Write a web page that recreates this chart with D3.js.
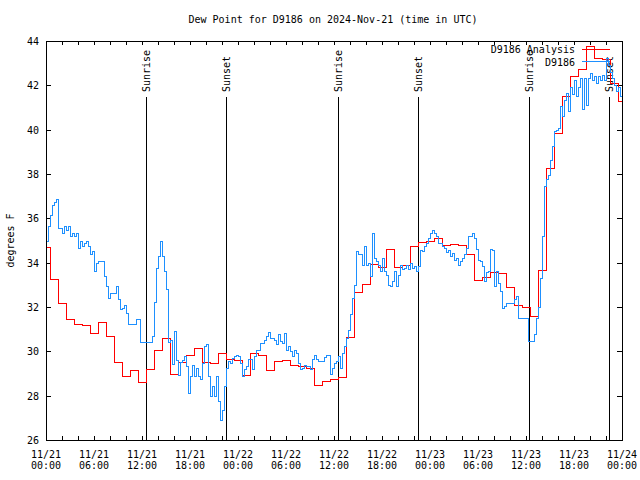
<!DOCTYPE html>
<html><head><meta charset="utf-8">
<script src="https://cdn.jsdelivr.net/npm/d3@7"></script>
<style>
body{margin:0;background:#fff;}
svg text{font-family:"DejaVu Sans Mono","Liberation Mono",monospace;font-size:10px;fill:#000;}
</style></head><body>
<svg id="chart" width="640" height="480"></svg>
<script>
// ---------------- data ----------------
const chartTitle = "Dew Point for D9186 on 2024-Nov-21 (time in UTC)";
const yAxisTitle = "degrees F";
const yTickValues = [26, 28, 30, 32, 34, 36, 38, 40, 42, 44];
const xTickHours = [0, 6, 12, 18, 24, 30, 36, 42, 48, 54, 60, 66, 72];
const xTickDates = ["11/21","11/21","11/21","11/21","11/22","11/22","11/22","11/22","11/23","11/23","11/23","11/23","11/24"];
const xTickTimes = ["00:00","06:00","12:00","18:00","00:00","06:00","12:00","18:00","00:00","06:00","12:00","18:00","00:00"];
const seriesNames = ["D9186 Analysis", "D9186"];
const seriesColors = ["#ff0000", "#1e90ff"];

// hourly analysis values, hour 0 .. 72
const analysisValues = [
  34.69, 33.25, 32.17, 31.44, 31.23, 31.16, 30.81, 31.31, 30.66, 29.49, 28.86, 29.13,
  28.60, 29.19, 30.06, 30.56, 28.96, 29.50, 29.79, 30.14, 29.50, 29.43, 29.91, 29.61,
  29.58, 28.93, 29.91, 29.80, 29.13, 29.53, 29.58, 29.38, 29.31, 29.22, 28.48, 28.66,
  28.74, 28.83, 30.63, 32.66, 33.02, 33.93, 33.79, 34.60, 33.79, 33.86, 34.75, 34.92,
  34.95, 35.10, 34.77, 34.80, 34.78, 34.35, 33.21, 33.35, 33.57, 33.50, 32.88, 32.06,
  31.98, 31.58, 33.63, 38.24, 39.84, 41.50, 42.40, 42.72, 43.75, 43.22, 43.15, 42.10,
  41.26
];

// station observations, one value every 15 minutes, hour 0 .. 72
const obsStepHours = 0.25;
const obsValues = [
  34.95, 35.62, 36.15, 36.60, 36.71, 36.85, 35.55, 35.55,
  35.32, 35.62, 35.47, 35.62, 35.17, 35.32, 35.17, 35.32,
  34.65, 34.95, 34.72, 34.87, 34.95, 34.72, 34.35, 34.50,
  33.59, 33.97, 34.04, 34.04, 34.04, 33.37, 32.92, 32.39,
  32.62, 32.62, 32.62, 32.92, 32.32, 31.90, 31.94, 32.09,
  31.71, 31.19, 31.19, 31.19, 31.19, 31.44, 31.44, 30.41,
  30.41, 30.41, 30.41, 30.41, 30.41, 30.66, 32.20, 33.74,
  34.27, 34.95, 34.30, 33.60, 32.80, 30.40, 30.50, 29.40,
  30.90, 29.60, 28.90, 29.50, 29.60, 29.76, 29.30, 28.10,
  28.86, 29.38, 28.86, 29.23, 28.86, 28.71, 29.46, 30.21,
  30.29, 28.86, 27.96, 28.41, 27.96, 28.86, 27.73, 26.90,
  27.35, 28.41, 29.23, 29.53, 29.46, 29.68, 29.76, 29.83,
  29.76, 29.46, 28.86, 29.16, 29.31, 29.61, 29.61, 29.16,
  29.76, 30.05, 30.06, 30.36, 30.36, 30.48, 30.66, 30.85,
  30.59, 30.59, 30.51, 30.29, 30.74, 30.44, 30.36, 30.81,
  30.06, 30.21, 29.98, 29.76, 30.05, 29.91, 29.46, 29.16,
  29.23, 29.38, 29.31, 29.31, 29.16, 29.61, 29.79, 29.64,
  29.56, 29.56, 29.56, 29.73, 29.83, 29.83, 28.95, 29.23,
  29.46, 29.53, 29.76, 29.23, 29.91, 30.21, 30.59, 30.96,
  31.64, 32.39, 32.99, 34.50, 34.35, 34.35, 33.89, 34.72,
  33.89, 33.97, 33.37, 35.32, 34.20, 34.05, 33.89, 33.59,
  34.20, 33.59, 33.44, 32.99, 32.92, 33.14, 33.59, 32.92,
  33.44, 33.89, 33.67, 33.74, 33.89, 33.67, 33.97, 33.74,
  33.82, 33.59, 33.82, 34.57, 34.50, 34.72, 34.87, 35.10,
  35.32, 35.45, 35.32, 35.17, 34.87, 34.87, 34.72, 34.65,
  34.47, 34.57, 34.27, 34.42, 34.12, 34.20, 33.89, 34.05,
  34.20, 34.35, 34.65, 35.17, 35.17, 35.32, 35.10, 34.60,
  34.10, 34.04, 33.82, 33.14, 33.55, 33.59, 34.60, 34.57,
  32.92, 33.59, 33.07, 32.69, 31.94, 32.04, 32.17, 32.17,
  32.17, 32.17, 32.32, 32.47, 31.49, 31.49, 31.49, 31.49,
  31.49, 30.44, 30.44, 30.44, 30.74, 31.49, 31.98, 33.30,
  35.20, 37.43, 37.73, 37.95, 38.63, 39.23, 39.91, 39.98,
  40.06, 41.04, 40.60, 41.30, 41.64, 40.80, 41.90, 41.60,
  42.20, 41.50, 41.90, 42.30, 40.90, 42.30, 41.10, 42.30,
  42.54, 42.20, 42.40, 42.10, 42.40, 42.20, 42.45, 42.24,
  43.20, 42.90, 42.60, 42.30, 42.00, 41.70, 41.90, 41.50,
  41.70
];

const sunLabels = ["Sunrise", "Sunset", "Sunrise", "Sunset", "Sunrise", "Sunset"];
const sunHours = [12.55, 22.53, 36.52, 46.53, 60.42, 70.42];

// ---------------- drawing ----------------
const svg = d3.select("#chart");
const L = 46, R = 622, T = 41, B = 440;
const x = d3.scaleLinear().domain([0, 72]).range([L, R]);
const y = d3.scaleLinear().domain([26, 44]).range([B, T]);

svg.append("rect").attr("width", 640).attr("height", 480).attr("fill", "#fff");

svg.append("defs").append("clipPath").attr("id", "clip")
  .append("rect").attr("x", L).attr("y", T).attr("width", R - L).attr("height", B - T);

// title
svg.append("text").attr("x", 333).attr("y", 23).attr("text-anchor", "middle").text(chartTitle);

// y axis title
svg.append("text").attr("transform", "translate(14," + ((T + B) / 2) + ") rotate(-90)")
  .attr("text-anchor", "middle").text(yAxisTitle);

// axes (ticks inward, mirrored)
const tick2h = d3.range(0, 73, 2);
function styleAxis(g) {
  g.select(".domain").remove();
  g.selectAll("line").attr("stroke", "#000").attr("shape-rendering", "crispEdges");
  g.attr("font-family", null).attr("font-size", null);
}
svg.append("g").attr("transform", "translate(0," + B + ")")
  .call(d3.axisBottom(x).tickValues(tick2h).tickSize(-4).tickFormat("")).call(styleAxis);
svg.append("g").attr("transform", "translate(0," + T + ")")
  .call(d3.axisTop(x).tickValues(tick2h).tickSize(-4).tickFormat("")).call(styleAxis);
svg.append("g").attr("transform", "translate(" + L + ",0)")
  .call(d3.axisLeft(y).tickValues(yTickValues).tickSize(-5).tickPadding(7).tickFormat(d3.format("d")))
  .call(styleAxis)
  .call(g => g.selectAll("text").attr("dy", "0.35em").attr("fill", "#000"));
svg.append("g").attr("transform", "translate(" + R + ",0)")
  .call(d3.axisRight(y).tickValues(yTickValues).tickSize(-5).tickFormat("")).call(styleAxis);

// x tick labels (two lines)
const xl = svg.append("g").selectAll("text").data(xTickHours).join("text")
  .attr("text-anchor", "middle");
xl.append("tspan").attr("x", d => x(d)).attr("y", 458).text((d, i) => xTickDates[i]);
xl.append("tspan").attr("x", d => x(d)).attr("y", 469).text((d, i) => xTickTimes[i]);

// sunrise / sunset markers
const sun = svg.append("g");
sun.selectAll("line").data(sunHours).join("line")
  .attr("x1", d => x(d)).attr("x2", d => x(d)).attr("y1", 97).attr("y2", B)
  .attr("stroke", "#000").attr("stroke-width", 1).attr("shape-rendering", "crispEdges");
sun.selectAll("text").data(sunHours).join("text")
  .attr("transform", d => "translate(" + (x(d) + 4) + ",92) rotate(-90)")
  .attr("text-anchor", "start").text((d, i) => sunLabels[i]);

// series
const plot = svg.append("g").attr("clip-path", "url(#clip)");
const analysisLine = d3.line().x((d, i) => x(i)).y(d => y(d)).curve(d3.curveStep);
const obsLine = d3.line().x((d, i) => x(i * obsStepHours)).y(d => y(d)).curve(d3.curveStepAfter);
plot.append("path").datum(analysisValues).attr("d", analysisLine)
  .attr("fill", "none").attr("stroke", seriesColors[0]).attr("stroke-width", 1)
  .attr("shape-rendering", "crispEdges");
plot.append("path").datum(obsValues).attr("d", obsLine)
  .attr("fill", "none").attr("stroke", seriesColors[1]).attr("stroke-width", 1)
  .attr("shape-rendering", "crispEdges");

// border
svg.append("rect").attr("x", L).attr("y", T).attr("width", R - L).attr("height", B - T)
  .attr("fill", "none").attr("stroke", "#000").attr("shape-rendering", "crispEdges");

// legend
const leg = svg.append("g");
seriesNames.forEach((name, i) => {
  const by = 53 + i * 12.5;
  leg.append("text").attr("x", 575).attr("y", by).attr("text-anchor", "end").text(name);
  leg.append("line").attr("x1", 582).attr("x2", 610).attr("y1", by - 4).attr("y2", by - 4)
    .attr("stroke", seriesColors[i]).attr("stroke-width", 1).attr("shape-rendering", "crispEdges");
});
</script>
</body></html>
